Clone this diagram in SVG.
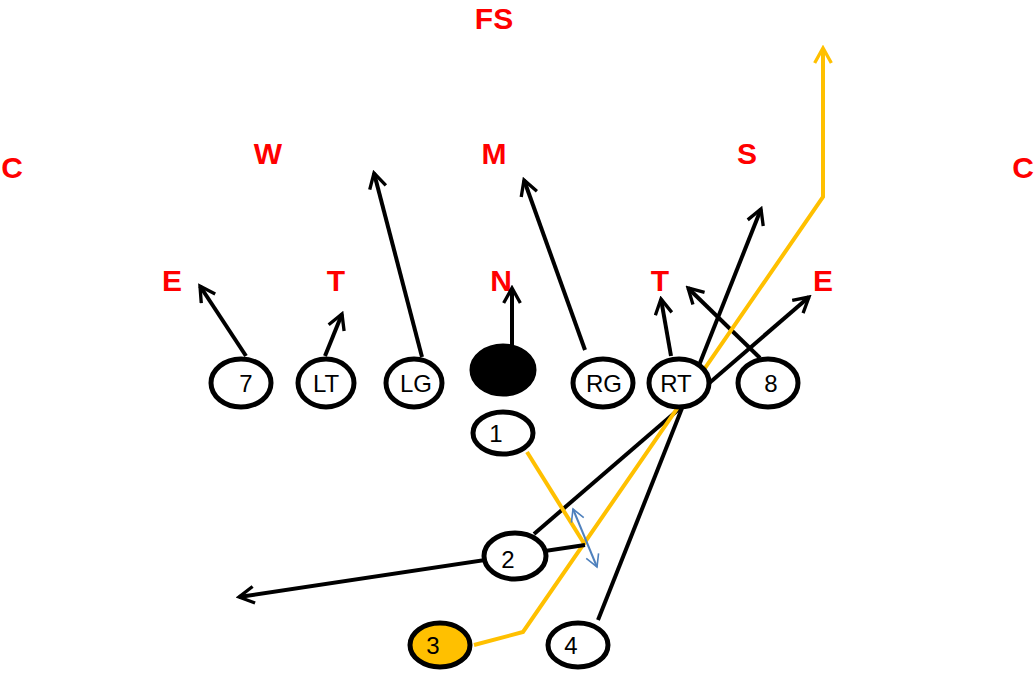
<svg xmlns="http://www.w3.org/2000/svg" width="1035" height="673" viewBox="0 0 1035 673">
<defs>
<marker id="a" viewBox="0 0 12 12" refX="10" refY="6" markerWidth="5" markerHeight="5" markerUnits="strokeWidth" orient="auto"><path d="M1,1 L10,6 L1,11" fill="none" stroke="#000" stroke-width="2"/></marker>
<marker id="y" viewBox="0 0 12 12" refX="10" refY="6" markerWidth="5" markerHeight="5" markerUnits="strokeWidth" orient="auto"><path d="M1,1 L10,6 L1,11" fill="none" stroke="#FFC000" stroke-width="2"/></marker>
<marker id="b" viewBox="0 0 12 12" refX="10" refY="6" markerWidth="8" markerHeight="8" markerUnits="strokeWidth" orient="auto-start-reverse"><path d="M1,1 L10,6 L1,11" fill="none" stroke="#4F81BD" stroke-width="1.2"/></marker>
<style>
.d{font-family:"Liberation Sans",Arial,sans-serif;font-size:30px;font-weight:bold;fill:#FF0000;text-anchor:middle}
.p ellipse{fill:#fff;stroke:#000;stroke-width:5}
.p text{font-family:"Liberation Sans",Arial,sans-serif;font-size:24px;fill:#000;text-anchor:middle}
.k{stroke:#000;stroke-width:4;fill:none}
.g{stroke:#FFC000;stroke-width:4;fill:none}
</style>
</defs>
<g id="defense">
<text class="d" x="494" y="29">FS</text>
<text class="d" x="12" y="178">C</text>
<text class="d" x="268" y="164">W</text>
<text class="d" x="494" y="164">M</text>
<text class="d" x="747" y="164">S</text>
<text class="d" x="1023" y="178">C</text>
<text class="d" x="172" y="291">E</text>
<text class="d" x="336" y="291">T</text>
<text class="d" x="501" y="291">N</text>
<text class="d" x="660" y="291">T</text>
<text class="d" x="823" y="291">E</text>
</g>
<g id="connectors">
<line class="k" x1="246" y1="356" x2="200" y2="286" marker-end="url(#a)"/>
<line class="k" x1="325" y1="356" x2="342" y2="314" marker-end="url(#a)"/>
<line class="k" x1="422" y1="357" x2="374" y2="173" marker-end="url(#a)"/>
<line class="k" x1="512" y1="345" x2="512" y2="288" marker-end="url(#a)"/>
<line class="k" x1="585" y1="350" x2="524" y2="180" marker-end="url(#a)"/>
<line class="k" x1="671" y1="356" x2="661" y2="299" marker-end="url(#a)"/>
<line class="k" x1="760" y1="358" x2="688" y2="288" marker-end="url(#a)"/>
<line class="k" x1="534" y1="534" x2="809" y2="297" marker-end="url(#a)"/>
<line class="k" x1="598" y1="620" x2="761" y2="209" marker-end="url(#a)"/>
<polyline class="g" points="474,645 523,632 823,197 823,48" marker-end="url(#y)"/>
<line class="g" x1="527" y1="452" x2="585" y2="545"/>
<line class="k" x1="585" y1="545" x2="239" y2="597" marker-end="url(#a)"/>
<line x1="573" y1="509" x2="597" y2="567" stroke="#4F81BD" stroke-width="2" marker-start="url(#b)" marker-end="url(#b)"/>
</g>
<g id="p7" class="p"><ellipse cx="241" cy="383" rx="30" ry="24"/><text x="246" y="392">7</text></g>
<g id="pLT" class="p"><ellipse cx="326" cy="383" rx="28" ry="24"/><text x="326" y="392">LT</text></g>
<g id="pLG" class="p"><ellipse cx="414" cy="383" rx="28" ry="24"/><text x="416" y="392">LG</text></g>
<g id="pC" class="p"><ellipse cx="503" cy="370" rx="31" ry="24" style="fill:#000"/></g>
<g id="pRG" class="p"><ellipse cx="603" cy="383" rx="30" ry="24"/><text x="604" y="392">RG</text></g>
<g id="pRT" class="p"><ellipse cx="679" cy="383" rx="30" ry="24"/><text x="676" y="392">RT</text></g>
<g id="p8" class="p"><ellipse cx="768" cy="383" rx="30" ry="24"/><text x="771" y="392">8</text></g>
<g id="p1" class="p"><ellipse cx="503" cy="433" rx="30" ry="21"/><text x="496" y="442">1</text></g>
<g id="p2" class="p"><ellipse cx="515" cy="556" rx="31" ry="23"/><text x="508" y="568">2</text></g>
<g id="p3" class="p"><ellipse cx="440" cy="645" rx="30" ry="22" style="fill:#FFC000"/><text x="433" y="654">3</text></g>
<g id="p4" class="p"><ellipse cx="578" cy="645" rx="30" ry="22"/><text x="571" y="654">4</text></g>
</svg>
